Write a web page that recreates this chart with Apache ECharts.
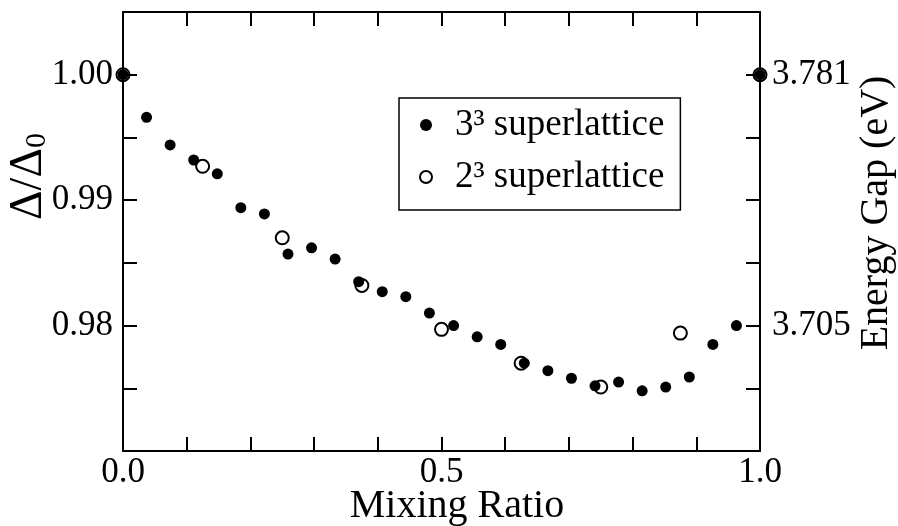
<!DOCTYPE html>
<html>
<head>
<meta charset="utf-8">
<script src="https://cdn.jsdelivr.net/npm/echarts@6/dist/echarts.min.js"></script>
<style>
html, body { margin: 0; padding: 0; background: #fff; }
#chart { width: 898px; height: 526px; }
</style>
</head>
<body>
<div id="chart"></div>
<script>
// 3^3 superlattice (filled dots)
var ratio27 = [0, 0.037, 0.074, 0.111, 0.148, 0.185, 0.222, 0.259, 0.296, 0.333, 0.370, 0.407, 0.444, 0.481,
               0.519, 0.556, 0.593, 0.630, 0.667, 0.704, 0.741, 0.778, 0.815, 0.852, 0.889, 0.926, 0.963, 1.0];
var gap27 = [1.0000, 0.9966, 0.9944, 0.9932, 0.9921, 0.9894, 0.9889, 0.9857, 0.9862, 0.9853, 0.9835, 0.9827, 0.9823, 0.9810,
             0.9800, 0.9791, 0.9785, 0.9770, 0.9764, 0.9758, 0.9752, 0.9755, 0.9748, 0.9751, 0.9759, 0.9785, 0.9800, 1.0000];
// 2^3 superlattice (open circles)
var ratio8 = [0, 0.125, 0.25, 0.375, 0.5, 0.625, 0.75, 0.875, 1.0];
var gap8 = [1.0000, 0.9927, 0.9870, 0.9832, 0.9797, 0.9770, 0.9751, 0.9794, 1.0000];

// tick labels
var xTickValues = [0, 0.5, 1.0];
var xTickLabels = ['0.0', '0.5', '1.0'];
var yTickValues = [0.98, 0.99, 1.00];
var yTickLabels = ['0.98', '0.99', '1.00'];
var eTickValues = [0.98, 1.00];
var eTickLabels = ['3.705', '3.781'];

var SERIF = "'Liberation Serif', 'DejaVu Serif', serif";

function pick(values, labels) {
    return function (v) {
        for (var i = 0; i < values.length; i++) {
            if (Math.abs(v - values[i]) < 1e-6) return labels[i];
        }
        return '';
    };
}

function pairs(xs, ys) {
    return xs.map(function (x, i) { return [x, ys[i]]; });
}

var tick = { show: true, inside: true, length: 14, lineStyle: { color: '#000', width: 2 } };
var line = { show: true, onZero: false, lineStyle: { color: '#000', width: 2 } };

var chart = echarts.init(document.getElementById('chart'), null, { renderer: 'canvas' });
chart.setOption({
    backgroundColor: '#fff',
    animation: false,
    grid: { left: 123, right: 138, top: 12, bottom: 75, containLabel: false, outerBoundsMode: 'none' },
    legend: {
        left: 399, top: 98, orient: 'vertical',
        borderColor: '#000', borderWidth: 1.5,
        padding: [7, 16, 13, 20],
        itemGap: 12, itemWidth: 12, itemHeight: 12,
        textStyle: { fontFamily: SERIF, fontSize: 37, lineHeight: 40, color: '#000', padding: [0, 0, 0, 18] },
        data: ['3³ superlattice', '2³ superlattice']
    },
    xAxis: [{
        type: 'value', min: 0, max: 1, interval: 0.1,
        name: 'Mixing Ratio', nameLocation: 'middle', nameGap: 35, nameMoveOverlap: false,
        nameTextStyle: { fontFamily: SERIF, fontSize: 40, color: '#000', padding: [0, 0, 0, 31] },
        axisLine: line, axisTick: tick, splitLine: { show: false },
        axisLabel: { fontFamily: SERIF, fontSize: 35, color: '#000', margin: 4,
                     showMinLabel: true, showMaxLabel: true, formatter: pick(xTickValues, xTickLabels) }
    }, {
        type: 'value', min: 0, max: 1, interval: 0.1, position: 'top',
        axisLine: line, axisTick: tick, splitLine: { show: false }, axisLabel: { show: false }
    }],
    yAxis: [{
        type: 'value', min: 0.970, max: 1.005, interval: 0.005,
        name: 'Δ/Δ{sub|0}', nameLocation: 'middle', nameRotate: 90, nameGap: 71, nameMoveOverlap: false,
        nameTextStyle: {
            fontFamily: SERIF, fontSize: 46, color: '#000', padding: [0, 0, 0, 110],
            rich: { sub: { fontFamily: SERIF, fontSize: 30, color: '#000', verticalAlign: 'bottom', padding: [16, 0, 0, 0] } }
        },
        axisLine: line, axisTick: tick, splitLine: { show: false },
        axisLabel: { fontFamily: SERIF, fontSize: 35, color: '#000', margin: 10,
                     showMinLabel: true, showMaxLabel: true, formatter: pick(yTickValues, yTickLabels) }
    }, {
        type: 'value', min: 0.970, max: 1.005, interval: 0.005, position: 'right',
        name: 'Energy Gap (eV)', nameLocation: 'middle', nameRotate: 90, nameGap: 96, nameMoveOverlap: false,
        nameTextStyle: { fontFamily: SERIF, fontSize: 40, color: '#000', padding: [0, 0, 0, 37] },
        axisLine: line, axisTick: tick, splitLine: { show: false },
        axisLabel: { fontFamily: SERIF, fontSize: 35, color: '#000', margin: 12,
                     showMinLabel: true, showMaxLabel: true, formatter: pick(eTickValues, eTickLabels) }
    }],
    series: [{
        name: '2³ superlattice', type: 'scatter', clip: false,
        symbol: 'circle', symbolSize: 13,
        itemStyle: { color: 'rgba(255,255,255,0)', borderColor: '#000', borderWidth: 2, opacity: 1 },
        data: pairs(ratio8, gap8)
    }, {
        name: '3³ superlattice', type: 'scatter', clip: false,
        symbol: 'circle', symbolSize: 11,
        itemStyle: { color: '#000', opacity: 1 },
        data: pairs(ratio27, gap27)
    }]
});
</script>
</body>
</html>
